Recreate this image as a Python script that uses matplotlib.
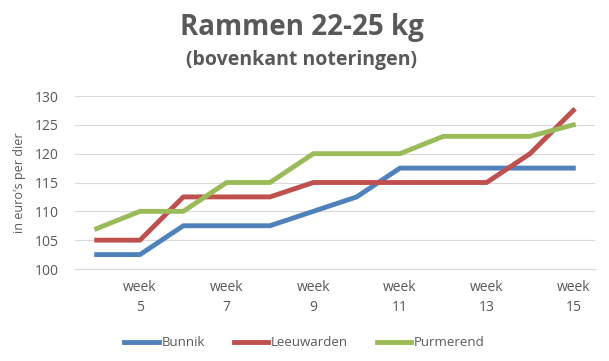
import matplotlib.pyplot as plt

weeks = [4, 5, 6, 7, 8, 9, 10, 11, 12, 13, 14, 15]
bunnik = [102.5, 102.5, 107.5, 107.5, 107.5, 110, 112.5, 117.5, 117.5, 117.5, 117.5, 117.5]
leeuwarden = [105, 105, 112.5, 112.5, 112.5, 115, 115, 115, 115, 115, 120, 127.5]
purmerend = [107, 110, 110, 115, 115, 120, 120, 120, 123, 123, 123, 125]

plt.rcParams['font.family'] = ['Open Sans', 'DejaVu Sans']
grey = '#595959'

fig = plt.figure(figsize=(6.09, 3.61), dpi=100)
ax = fig.add_axes([75 / 609, 1 - 269 / 361, 520 / 609, 173 / 361])

x = list(range(len(weeks)))
ax.plot(x, bunnik, color='#4F81BD', lw=3.5, label='Bunnik', solid_joinstyle='round')
ax.plot(x, leeuwarden, color='#C0504D', lw=3.5, label='Leeuwarden', solid_joinstyle='round')
ax.plot(x, purmerend, color='#9BBB59', lw=3.5, label='Purmerend', solid_joinstyle='round')

ax.set_xlim(-0.5, len(weeks) - 0.5)
ax.set_ylim(100, 130)
ax.set_yticks(range(100, 131, 5))
ticks = [i for i, w in enumerate(weeks) if w % 2 == 1]
ax.set_xticks(ticks)
ax.set_xticklabels([f'week\n{weeks[i]}' for i in ticks], color=grey, fontsize=10, linespacing=1.4)
ax.tick_params(axis='y', colors=grey, labelsize=10, length=0, pad=12)
ax.tick_params(axis='x', length=0, pad=8)
ax.grid(axis='y', color='#D9D9D9', lw=0.8)
ax.set_axisbelow(True)
for s in ['top', 'right', 'left']:
    ax.spines[s].set_visible(False)
ax.spines['bottom'].set_color('#D9D9D9')
ax.set_ylabel("in euro's per dier", color=grey, fontsize=9, labelpad=6)

fig.text(0.495, 1 - 28 / 361, 'Rammen 22-25 kg', ha='center', va='center',
         fontsize=20, fontweight='bold', color=grey)
fig.text(0.495, 1 - 60 / 361, '(bovenkant noteringen)', ha='center', va='center',
         fontsize=14, fontweight='bold', color=grey)

fig.legend(loc='center', bbox_to_anchor=(0.5, 1 - 343 / 361), ncol=3, frameon=False,
           fontsize=9.5, labelcolor=grey, handlelength=2.6, handletextpad=0.2, columnspacing=2.2)

fig.savefig('out.png', dpi=100)
